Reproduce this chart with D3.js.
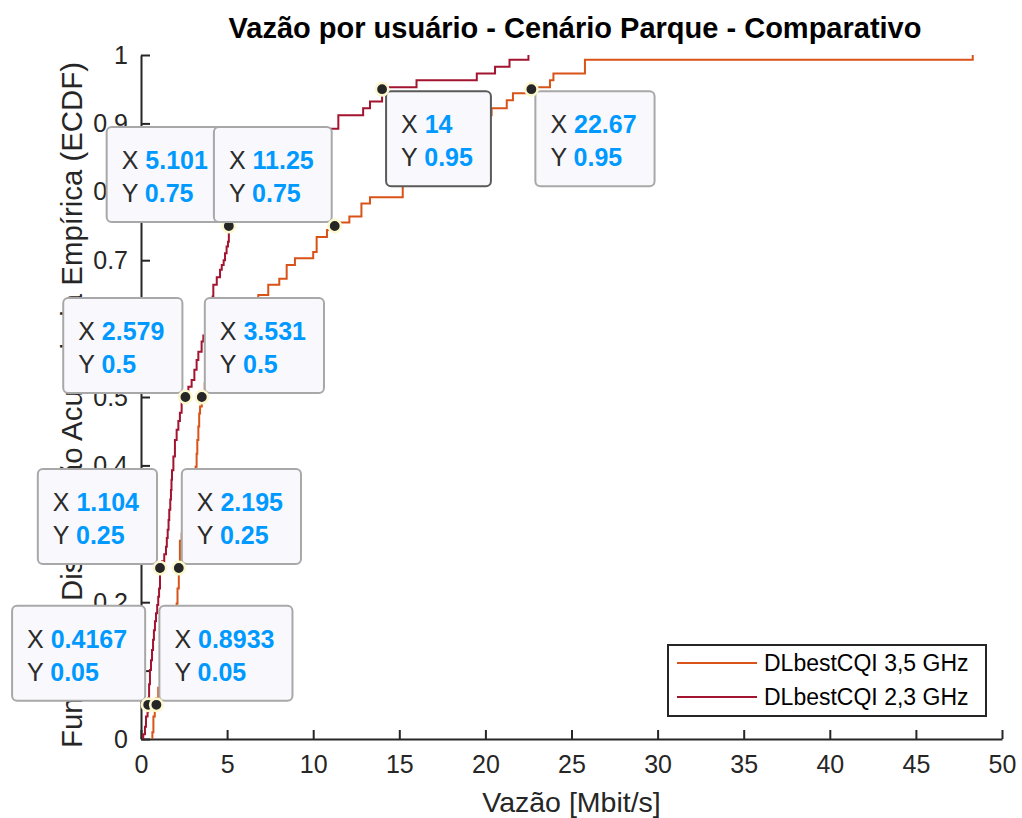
<!DOCTYPE html>
<html>
<head>
<meta charset="utf-8">
<script src="https://cdn.jsdelivr.net/npm/d3@7"></script>
<style>
  html, body { margin: 0; padding: 0; background: #fff; }
  svg { display: block; font-family: "Liberation Sans", Arial, Helvetica, sans-serif; }
</style>
</head>
<body>
<svg id="chart" width="1022" height="818"></svg>
<script>
// ECDF step vertices: throughput [Mbit/s] and cumulative probability reached at that throughput
const thr35 = [0.66, 0.72, 0.80, 0.8933, 1.00, 1.15, 1.30, 1.45, 1.60, 1.75, 1.90, 2.00, 2.07, 2.12, 2.195,
  2.26, 2.36, 2.50, 2.65, 2.80, 2.95, 3.08, 3.17, 3.23, 3.27, 3.33, 3.38, 3.43, 3.531, 3.70, 3.90, 4.10,
  4.40, 4.70, 5.00, 5.40, 5.90, 6.30, 6.81, 7.39, 8.03, 8.46, 8.94, 10.0, 10.2, 10.8, 11.25, 12.1, 12.8,
  13.3, 15.2, 16.0, 16.8, 17.6, 18.5, 19.5, 20.36, 21.24, 21.6, 22.67, 23.75, 23.95, 25.78, 48.3];
const cdf35 = [0.010, 0.033, 0.045, 0.060, 0.075, 0.090, 0.110, 0.130, 0.150, 0.165, 0.180, 0.190, 0.198, 0.220, 0.250,
  0.290, 0.300, 0.320, 0.340, 0.360, 0.375, 0.390, 0.398, 0.417, 0.437, 0.457, 0.476, 0.486, 0.506, 0.520, 0.535, 0.550,
  0.565, 0.580, 0.595, 0.610, 0.625, 0.637, 0.649, 0.664, 0.673, 0.693, 0.703, 0.712, 0.734, 0.744, 0.755, 0.764, 0.783,
  0.792, 0.830, 0.850, 0.870, 0.885, 0.900, 0.912, 0.922, 0.934, 0.944, 0.953, 0.963, 0.973, 0.993, 1.000];

const thr23 = [0.13, 0.23, 0.29, 0.38, 0.4167, 0.47, 0.52, 0.58, 0.64, 0.70, 0.75, 0.81, 0.87, 0.94, 1.00,
  1.05, 1.104, 1.22, 1.35, 1.45, 1.50, 1.55, 1.60, 1.64, 1.70, 1.74, 1.77, 1.80, 1.88, 1.97, 2.07, 2.17, 2.26,
  2.36, 2.579, 2.75, 2.94, 3.10, 3.23, 3.33, 3.52, 3.62, 3.72, 3.85, 3.95, 4.16, 4.20, 4.40, 4.59, 4.69, 4.80,
  4.88, 4.97, 5.05, 5.101, 5.30, 5.60, 6.00, 6.50, 7.10, 7.80, 8.50, 9.30, 10.1, 10.9, 11.46, 12.9, 13.3,
  14.0, 16.0, 19.5, 20.56, 21.4, 22.5];
const cdf23 = [0.007, 0.018, 0.033, 0.040, 0.060, 0.080, 0.101, 0.115, 0.130, 0.145, 0.159, 0.172, 0.184, 0.196, 0.208,
  0.220, 0.250, 0.260, 0.270, 0.281, 0.294, 0.306, 0.320, 0.335, 0.350, 0.364, 0.379, 0.393, 0.413, 0.437, 0.452, 0.465, 0.477,
  0.493, 0.506, 0.515, 0.525, 0.540, 0.554, 0.566, 0.581, 0.590, 0.600, 0.615, 0.630, 0.647, 0.664, 0.675, 0.686, 0.693, 0.700,
  0.710, 0.720, 0.727, 0.750, 0.760, 0.770, 0.785, 0.800, 0.815, 0.830, 0.845, 0.860, 0.872, 0.892, 0.912, 0.922, 0.932,
  0.953, 0.963, 0.973, 0.983, 0.993, 1.000];

const seriesNames = ["DLbestCQI 3,5 GHz", "DLbestCQI 2,3 GHz"];
const seriesColors = ["#D95319", "#A2142F"];

// Data tips: value, probability, box placement, selected flag
const tipX = [0.4167, 0.8933, 1.104, 2.195, 2.579, 3.531, 5.101, 11.25, 22.67, 14];
const tipY = [0.05, 0.05, 0.25, 0.25, 0.5, 0.5, 0.75, 0.75, 0.95, 0.95];
const tipSide = ["ul", "ur", "ul", "ur", "ul", "ur", "ul", "ul", "lr", "lr"];
const tipSelected = [false, false, false, false, false, false, false, false, false, true];

const xTicks = d3.range(0, 51, 5);
const yTicks = d3.range(0, 11).map(d => d / 10);

const titleText = "Vazão por usuário - Cenário Parque - Comparativo";
const xLabel = "Vazão [Mbit/s]";
const yLabel = "Função de Distribuição Acumulada Empírica (ECDF)";

const svg = d3.select("#chart");
const margin = { left: 141, right: 20, top: 55, bottom: 79 };
const W = 1022, H = 818;

const x = d3.scaleLinear().domain([0, 50]).range([margin.left, W - margin.right]);
const y = d3.scaleLinear().domain([0, 1]).range([H - margin.bottom, margin.top]);

const axisColor = "#262626";

// Axes (ticks pointing inward, no box)
const xAxis = svg.append("g")
  .attr("transform", `translate(0,${y(0)})`)
  .call(d3.axisBottom(x).tickValues(xTicks).tickSizeInner(-9).tickSizeOuter(0).tickPadding(16).tickFormat(d3.format("d")));
const yAxis = svg.append("g")
  .attr("transform", `translate(${x(0)},0)`)
  .call(d3.axisLeft(y).tickValues(yTicks).tickSizeInner(-9).tickSizeOuter(0).tickPadding(13).tickFormat(d => d === 0 || d === 1 ? d3.format("d")(d) : d3.format(".1f")(d)));

[xAxis, yAxis].forEach(g => {
  g.select(".domain").attr("stroke", axisColor).attr("stroke-width", 2);
  g.selectAll(".tick line").attr("stroke", axisColor).attr("stroke-width", 2);
  g.selectAll(".tick text").attr("fill", axisColor).style("font-size", "25px")
    .style("font-family", "'Liberation Sans', Arial, sans-serif");
});

// Title and axis labels
svg.append("text")
  .attr("x", 575).attr("y", 38)
  .attr("text-anchor", "middle")
  .style("font-size", "29px").style("font-weight", "bold").attr("fill", "#000")
  .text(titleText);

svg.append("text")
  .attr("x", (x(0) + x(50)) / 2).attr("y", 812)
  .attr("text-anchor", "middle")
  .style("font-size", "28.5px").attr("fill", axisColor)
  .text(xLabel);

svg.append("text")
  .attr("transform", `translate(82,405) rotate(-90)`)
  .attr("text-anchor", "middle")
  .style("font-size", "29.4px").attr("fill", axisColor)
  .text(yLabel);

// ECDF stair lines
function stairs(xs, ps) {
  const pts = [[xs[0], 0]];
  xs.forEach((v, i) => pts.push([v, ps[i]]));
  return pts;
}
const line = d3.line().x(d => x(d[0])).y(d => y(d[1])).curve(d3.curveStepAfter);
const series = [stairs(thr35, cdf35), stairs(thr23, cdf23)];

svg.append("g").selectAll("path")
  .data(series)
  .join("path")
  .attr("d", line)
  .attr("fill", "none")
  .attr("stroke", (d, i) => seriesColors[i])
  .attr("stroke-width", 2);

// Legend
const lg = svg.append("g");
lg.append("rect")
  .attr("x", 668).attr("y", 645).attr("width", 318).attr("height", 71)
  .attr("fill", "#fff").attr("stroke", "#262626").attr("stroke-width", 2);
seriesNames.forEach((name, i) => {
  const cy = 663 + i * 34;
  lg.append("line")
    .attr("x1", 677).attr("x2", 757).attr("y1", cy).attr("y2", cy)
    .attr("stroke", seriesColors[i]).attr("stroke-width", 2);
  lg.append("text")
    .attr("x", 764).attr("y", cy).attr("dy", "0.36em")
    .style("font-size", "23px").attr("fill", "#000")
    .text(name);
});

// Data tips
const fmt = d3.format(".4~g");
const tips = svg.append("g");
tipX.forEach((vx, i) => {
  const px = x(vx), py = y(tipY[i]);
  const g = tips.append("g");
  const box = g.append("rect")
    .attr("rx", 5).attr("ry", 5)
    .attr("fill", "#f9f9fd")
    .attr("stroke", tipSelected[i] ? "#5a5a5a" : "#a8a8a8")
    .attr("stroke-width", 2);
  const txt = g.append("g").style("font-size", "25px");
  const l1 = txt.append("text").attr("y", 42);
  l1.append("tspan").attr("fill", "#2b2b2b").text("X ");
  l1.append("tspan").attr("fill", "#0099FF").style("font-weight", "bold").text(fmt(vx));
  const l2 = txt.append("text").attr("y", 75);
  l2.append("tspan").attr("fill", "#2b2b2b").text("Y ");
  l2.append("tspan").attr("fill", "#0099FF").style("font-weight", "bold").text(fmt(tipY[i]));
  const tw = Math.max(l1.node().getComputedTextLength(), l2.node().getComputedTextLength());
  const bw = tw + 33, bh = 95;
  let bx, by;
  if (tipSide[i] === "ul") { bx = px - 3 - bw; by = py - 4 - bh; }
  else if (tipSide[i] === "ur") { bx = px + 3; by = py - 4 - bh; }
  else { bx = px + 4; by = py + 2; }
  box.attr("x", bx).attr("y", by).attr("width", bw).attr("height", bh);
  txt.attr("transform", `translate(${bx + 15},${by})`);
  g.append("circle")
    .attr("cx", px).attr("cy", py).attr("r", 6.2)
    .attr("fill", "#262626").attr("stroke", "#fbf8d0").attr("stroke-width", 2.6);
});
</script>
</body>
</html>
